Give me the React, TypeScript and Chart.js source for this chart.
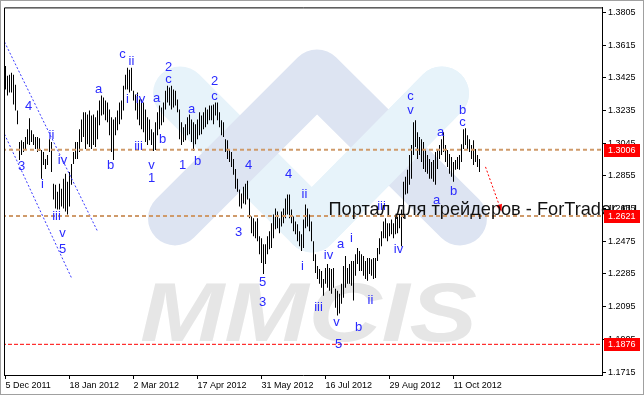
import React, { useEffect, useRef } from 'react';
import { Chart, registerables } from 'chart.js';

Chart.register(...registerables);

const FONT = '"Liberation Sans", Arial, sans-serif';

// Daily bar highs / lows (EURUSD, 5 Dec 2011 .. end Oct 2012)
const highs: number[] = [
  1.3494,1.3437,1.3442,1.3454,1.3442,1.3385,1.3235,1.3051,1.3062,1.3051,
  1.3080,1.3126,1.3189,1.3120,1.3097,1.3080,1.3080,1.3074,1.3005,1.2993,
  1.2953,1.2976,1.3068,1.3051,1.2809,1.2803,1.2763,1.2809,1.2780,1.2838,
  1.2867,1.2821,1.2878,1.2924,1.2993,1.3051,1.3051,1.3126,1.3183,1.3224,
  1.3224,1.3212,1.3235,1.3206,1.3212,1.3195,1.3235,1.3293,1.3322,1.3310,
  1.3293,1.3281,1.3241,1.3195,1.3183,1.3195,1.3235,1.3281,1.3293,1.3379,
  1.3442,1.3483,1.3471,1.3483,1.3350,1.3327,1.3339,1.3299,1.3299,1.3281,
  1.3241,1.3195,1.3183,1.3126,1.3108,1.3166,1.3224,1.3264,1.3252,1.3281,
  1.3350,1.3379,1.3368,1.3379,1.3356,1.3350,1.3299,1.3241,1.3166,1.3137,
  1.3155,1.3195,1.3212,1.3183,1.3166,1.3155,1.3183,1.3224,1.3206,1.3224,
  1.3252,1.3241,1.3264,1.3264,1.3270,1.3281,1.3281,1.3224,1.3178,1.3166,
  1.3068,1.3062,1.3011,1.2993,1.2953,1.2895,1.2838,1.2775,1.2752,1.2792,
  1.2809,1.2826,1.2723,1.2619,1.2608,1.2590,1.2608,1.2504,1.2492,1.2458,
  1.2458,1.2504,1.2533,1.2579,1.2631,1.2665,1.2648,1.2608,1.2648,1.2665,
  1.2723,1.2746,1.2746,1.2659,1.2619,1.2590,1.2573,1.2533,1.2515,1.2602,
  1.2688,1.2665,1.2631,1.2590,1.2475,1.2400,1.2331,1.2314,1.2302,1.2256,
  1.2320,1.2343,1.2320,1.2314,1.2320,1.2199,1.2187,1.2170,1.2228,1.2331,
  1.2389,1.2320,1.2343,1.2360,1.2360,1.2400,1.2435,1.2418,1.2400,1.2389,
  1.2360,1.2377,1.2377,1.2371,1.2377,1.2377,1.2435,1.2492,1.2533,1.2590,
  1.2608,1.2579,1.2579,1.2602,1.2579,1.2619,1.2631,1.2631,1.2659,1.2821,
  1.2849,1.2890,1.2976,1.3034,1.3166,1.3178,1.3108,1.3080,1.3068,1.3051,
  1.3011,1.2976,1.2953,1.2936,1.2947,1.2993,1.3011,1.3034,1.3068,1.3108,
  1.3034,1.3005,1.2982,1.2965,1.2936,1.2947,1.2965,1.2976,1.3039,1.3126,
  1.3131,1.3091,1.3068,1.3034,1.3062,1.3011,1.2976,1.2953,
];
const lows: number[] = [
  1.3356,1.3322,1.3339,1.3339,1.3270,1.3235,1.3155,1.2947,1.2976,1.2993,
  1.3011,1.3039,1.3034,1.3051,1.3034,1.3011,1.2993,1.2999,1.2838,1.2918,
  1.2895,1.2918,1.2993,1.2878,1.2717,1.2665,1.2659,1.2659,1.2677,1.2665,
  1.2648,1.2631,1.2677,1.2803,1.2924,1.2953,1.2953,1.2993,1.3051,1.3080,
  1.3011,1.3039,1.3022,1.3011,1.3034,1.3022,1.3068,1.3149,1.3206,1.3212,
  1.3178,1.3166,1.3091,1.2993,1.2947,1.3091,1.3120,1.3155,1.3183,1.3235,
  1.3356,1.3356,1.3339,1.3350,1.3293,1.3235,1.3183,1.3149,1.3126,1.3108,
  1.3051,1.3034,1.3062,1.3034,1.2999,1.3005,1.3091,1.3126,1.3149,1.3166,
  1.3241,1.3281,1.3264,1.3241,1.3252,1.3264,1.3224,1.3068,1.3034,1.3051,
  1.3062,1.3091,1.3097,1.3051,1.2999,1.3039,1.3068,1.3091,1.3097,1.3126,
  1.3137,1.3155,1.3178,1.3178,1.3155,1.3206,1.3178,1.3137,1.3091,1.3080,
  1.2993,1.2953,1.2936,1.2907,1.2861,1.2780,1.2763,1.2677,1.2665,1.2694,
  1.2688,1.2717,1.2608,1.2521,1.2504,1.2492,1.2475,1.2400,1.2348,1.2285,
  1.2343,1.2400,1.2429,1.2435,1.2492,1.2544,1.2550,1.2521,1.2561,1.2579,
  1.2608,1.2631,1.2608,1.2579,1.2533,1.2515,1.2475,1.2446,1.2418,1.2435,
  1.2550,1.2561,1.2533,1.2475,1.2360,1.2291,1.2256,1.2228,1.2205,1.2158,
  1.2228,1.2205,1.2187,1.2170,1.2205,1.2089,1.2043,1.2055,1.2112,1.2147,
  1.2205,1.2228,1.2228,1.2216,1.2130,1.2274,1.2343,1.2302,1.2302,1.2274,
  1.2256,1.2245,1.2285,1.2274,1.2256,1.2262,1.2360,1.2400,1.2446,1.2492,
  1.2492,1.2475,1.2504,1.2515,1.2492,1.2515,1.2521,1.2550,1.2446,1.2608,
  1.2746,1.2752,1.2803,1.2838,1.2976,1.3022,1.2953,1.2976,1.2936,1.2895,
  1.2878,1.2867,1.2838,1.2838,1.2821,1.2803,1.2895,1.2953,1.2976,1.2993,
  1.2936,1.2907,1.2867,1.2849,1.2821,1.2890,1.2895,1.2890,1.2936,1.3011,
  1.3034,1.3005,1.2993,1.2953,1.2918,1.2936,1.2907,1.2878,
];

const dateTickIndex = [0, 32, 64, 96, 128, 160, 192, 224];
const dateTickLabels = ['5 Dec 2011', '18 Jan 2012', '2 Mar 2012', '17 Apr 2012', '31 May 2012', '16 Jul 2012', '29 Aug 2012', '11 Oct 2012'];
const priceTicks = [1.1715, 1.1905, 1.2095, 1.2285, 1.2475, 1.2665, 1.2855, 1.3045, 1.3235, 1.3425, 1.3615, 1.3805];
const PRICE_MIN = 1.16977;
const PRICE_MAX = 1.38338;
const IDX_MIN = -0.75;
const IDX_MAX = 298.25;

const levelPrices = [1.3006, 1.2621];
const supportPrice = 1.1876;
const boxedPrices = [1.3006, 1.2621, 1.1876];

const waveText = ['4','3','ii','i','iv','iii','v','5','a','b','c','ii','i','iv','iii','v','1','a','b','2','c','1','a','b','2','c','3','4','5','3','4','ii','i','iii','iv','a','v','5','i','b','ii','iii','iv','c','v','a','a','b','b','c'];
const waveIndex = [11.5,8,23,18.5,28.5,25.5,28.5,28.5,46.5,52.5,58.5,63,61,67.5,66.5,73,73,75.5,78.5,81.5,81.5,88.5,93,96,104.5,104.5,116.5,121.5,128.5,128.5,141.5,149.5,148.5,156.5,161.5,167.5,165.5,166.5,173,176.5,182.5,188,196.5,202.5,202.5,215.5,217.5,224,228.5,228.5];
const wavePrice = [1.3258,1.2907,1.3091,1.2803,1.2947,1.2619,1.2521,1.2429,1.3356,1.2918,1.3558,1.3517,1.3299,1.3299,1.3028,1.2918,1.2838,1.3304,1.3068,1.3483,1.3414,1.2918,1.3241,1.2941,1.3402,1.3316,1.2527,1.2918,1.2233,1.2118,1.2861,1.2746,1.2331,1.2089,1.2394,1.2458,1.2003,1.1876,1.2492,1.1974,1.2130,1.2677,1.2429,1.3316,1.3235,1.2711,1.3108,1.2763,1.3235,1.3166];

const channelUpper = [{ x: -0.5, y: 1.3633 }, { x: 46, y: 1.2533 }];
const channelLower = [{ x: -0.5, y: 1.3097 }, { x: 33, y: 1.2262 }];
const forecastArrow = [{ x: 240, y: 1.2907 }, { x: 248, y: 1.2648 }];

const noteText = 'Портал для трейдеров - ForTrader.ru';
const noteIndex = 161.5;
const notePrice = 1.2625;

const decorPlugin = {
  id: 'mt4decor',
  beforeDatasetsDraw(chart: any) {
    const { ctx, chartArea: a } = chart;
    ctx.save();
    ctx.beginPath();
    ctx.rect(a.left, a.top, a.right - a.left, a.bottom - a.top);
    ctx.clip();
    const ox = a.left - 4;
    const oy = a.top - 4;
    const stroke = (pts: number[][], color: string) => {
      ctx.strokeStyle = color;
      ctx.beginPath();
      pts.forEach(([x, y], i) => (i ? ctx.lineTo(ox + x, oy + y) : ctx.moveTo(ox + x, oy + y)));
      ctx.stroke();
    };
    ctx.lineCap = 'round';
    ctx.lineJoin = 'round';
    ctx.lineWidth = 54;
    stroke([[180, 90], [312, 222], [442, 90]], '#e7f3fa');
    stroke([[175, 215], [317, 73], [460, 215]], '#dde4f2');
    stroke([[312, 222], [442, 90]], '#e7f3fa');
    ctx.font = `italic bold 84px ${FONT}`;
    const w = ctx.measureText('MMCIS').width;
    ctx.translate(ox + 140, oy + 338);
    ctx.scale(337 / w, 1);
    ctx.fillStyle = '#e6e6e6';
    ctx.textBaseline = 'alphabetic';
    ctx.fillText('MMCIS', 0, 0);
    ctx.restore();
  },
  afterDatasetsDraw(chart: any) {
    const { ctx } = chart;
    const xs = chart.scales.x;
    const ys = chart.scales.y;
    ctx.save();
    ctx.font = `13px ${FONT}`;
    ctx.fillStyle = '#2a2aff';
    ctx.textAlign = 'center';
    ctx.textBaseline = 'middle';
    waveText.forEach((t, i) => {
      ctx.fillText(t, xs.getPixelForValue(waveIndex[i]), ys.getPixelForValue(wavePrice[i]));
    });
    // arrow head of forecast line
    const p0 = forecastArrow[0];
    const p1 = forecastArrow[1];
    const x0 = xs.getPixelForValue(p0.x), y0 = ys.getPixelForValue(p0.y);
    const x1 = xs.getPixelForValue(p1.x), y1 = ys.getPixelForValue(p1.y);
    const ang = Math.atan2(y1 - y0, x1 - x0);
    ctx.fillStyle = '#ff0000';
    ctx.beginPath();
    ctx.moveTo(x1, y1);
    ctx.lineTo(x1 - 7 * Math.cos(ang) + 3 * Math.sin(ang), y1 - 7 * Math.sin(ang) - 3 * Math.cos(ang));
    ctx.lineTo(x1 - 7 * Math.cos(ang) - 3 * Math.sin(ang), y1 - 7 * Math.sin(ang) + 3 * Math.cos(ang));
    ctx.closePath();
    ctx.fill();
    ctx.restore();
  },
  afterDraw(chart: any) {
    const { ctx, chartArea: a } = chart;
    const xs = chart.scales.x;
    const ys = chart.scales.y;
    ctx.save();
    // frame top & left
    ctx.strokeStyle = '#000';
    ctx.lineWidth = 1;
    ctx.beginPath();
    ctx.moveTo(a.left + 0.5, a.bottom);
    ctx.lineTo(a.left + 0.5, a.top + 0.5);
    ctx.lineTo(a.right, a.top + 0.5);
    ctx.stroke();
    // note text
    ctx.font = `16px ${FONT}`;
    const mw = ctx.measureText(noteText).width;
    const fs = 16 * 309 / mw;
    ctx.font = `${fs.toFixed(2)}px ${FONT}`;
    ctx.fillStyle = '#111';
    ctx.textAlign = 'left';
    ctx.textBaseline = 'alphabetic';
    ctx.fillText(noteText, xs.getPixelForValue(noteIndex), ys.getPixelForValue(notePrice));
    // price boxes
    ctx.font = `9px ${FONT}`;
    ctx.textBaseline = 'middle';
    boxedPrices.forEach((p) => {
      const y = Math.round(ys.getPixelForValue(p));
      ctx.fillStyle = '#ff0000';
      ctx.fillRect(a.right + 2, y - 6, 36, 13);
      ctx.fillStyle = '#ffffff';
      ctx.fillText(p.toFixed(4), a.right + 6, y + 0.5);
    });
    // window border
    ctx.strokeStyle = '#a0a0a0';
    ctx.strokeRect(0.5, 0.5, chart.width - 1, chart.height - 1);
    ctx.restore();
  },
};

export default function App() {
  const ref = useRef<HTMLCanvasElement>(null);
  useEffect(() => {
    const bars = highs.map((h, i) => ({ x: i, y: [lows[i], h] }));
    const hline = (p: number) => [{ x: IDX_MIN - 1, y: p }, { x: IDX_MAX + 1, y: p }];
    const chart = new Chart(ref.current as HTMLCanvasElement, {
      type: 'bar',
      data: {
        datasets: [
          { type: 'line', data: hline(levelPrices[0]), borderColor: '#cf9a6a', borderWidth: 2, borderDash: [4, 3], pointRadius: 0, fill: false } as any,
          { type: 'line', data: hline(levelPrices[1]), borderColor: '#cf9a6a', borderWidth: 2, borderDash: [4, 3], pointRadius: 0, fill: false } as any,
          { type: 'line', data: hline(supportPrice), borderColor: '#ff0000', borderWidth: 1, borderDash: [4, 2], pointRadius: 0, fill: false } as any,
          { type: 'line', data: channelUpper, borderColor: '#3a3aff', borderWidth: 1, borderDash: [2, 2], pointRadius: 0, fill: false } as any,
          { type: 'line', data: channelLower, borderColor: '#3a3aff', borderWidth: 1, borderDash: [2, 2], pointRadius: 0, fill: false } as any,
          { type: 'line', data: forecastArrow, borderColor: '#ff0000', borderWidth: 1, borderDash: [2, 2], pointRadius: 0, fill: false } as any,
          { type: 'bar', data: bars, backgroundColor: '#000', borderWidth: 0, barThickness: 1, inflateAmount: 0 } as any,
        ],
      },
      options: {
        animation: false,
        responsive: false,
        devicePixelRatio: 1,
        events: [],
        layout: { padding: { left: 4, top: 4, right: 0, bottom: 0 }, autoPadding: false } as any,
        plugins: { legend: { display: false }, tooltip: { enabled: false } },
        scales: {
          x: {
            type: 'linear',
            min: IDX_MIN,
            max: IDX_MAX,
            offset: false,
            afterBuildTicks: (s: any) => { s.ticks = dateTickIndex.map((v) => ({ value: v })); },
            afterFit: (s: any) => { s.height = 20; },
            grid: { display: true, drawOnChartArea: false, drawTicks: true, tickLength: 4, color: '#000', offset: false },
            border: { display: true, color: '#000' },
            ticks: {
              align: 'start', autoSkip: false, maxRotation: 0, minRotation: 0, padding: 1, color: '#000',
              font: { family: FONT, size: 9 },
              callback: (v: any) => { const k = dateTickIndex.indexOf(Number(v)); return k >= 0 ? dateTickLabels[k] : ''; },
            },
          },
          y: {
            type: 'linear',
            position: 'right',
            min: PRICE_MIN,
            max: PRICE_MAX,
            beginAtZero: false,
            afterBuildTicks: (s: any) => { s.ticks = priceTicks.map((v) => ({ value: v })); },
            afterFit: (s: any) => { s.width = 42; },
            grid: { display: true, drawOnChartArea: false, drawTicks: true, tickLength: 4, color: '#000' },
            border: { display: true, color: '#000' },
            ticks: { autoSkip: false, padding: 2, color: '#000', font: { family: FONT, size: 9 }, callback: (v: any) => Number(v).toFixed(4) },
          },
        } as any,
      },
      plugins: [decorPlugin],
    });
    return () => chart.destroy();
  }, []);
  return (
    <div style={{ position: 'absolute', left: 0, top: 0, width: 644, height: 395, background: '#fff' }}>
      <canvas ref={ref} width={644} height={395} style={{ display: 'block' }} />
    </div>
  );
}
